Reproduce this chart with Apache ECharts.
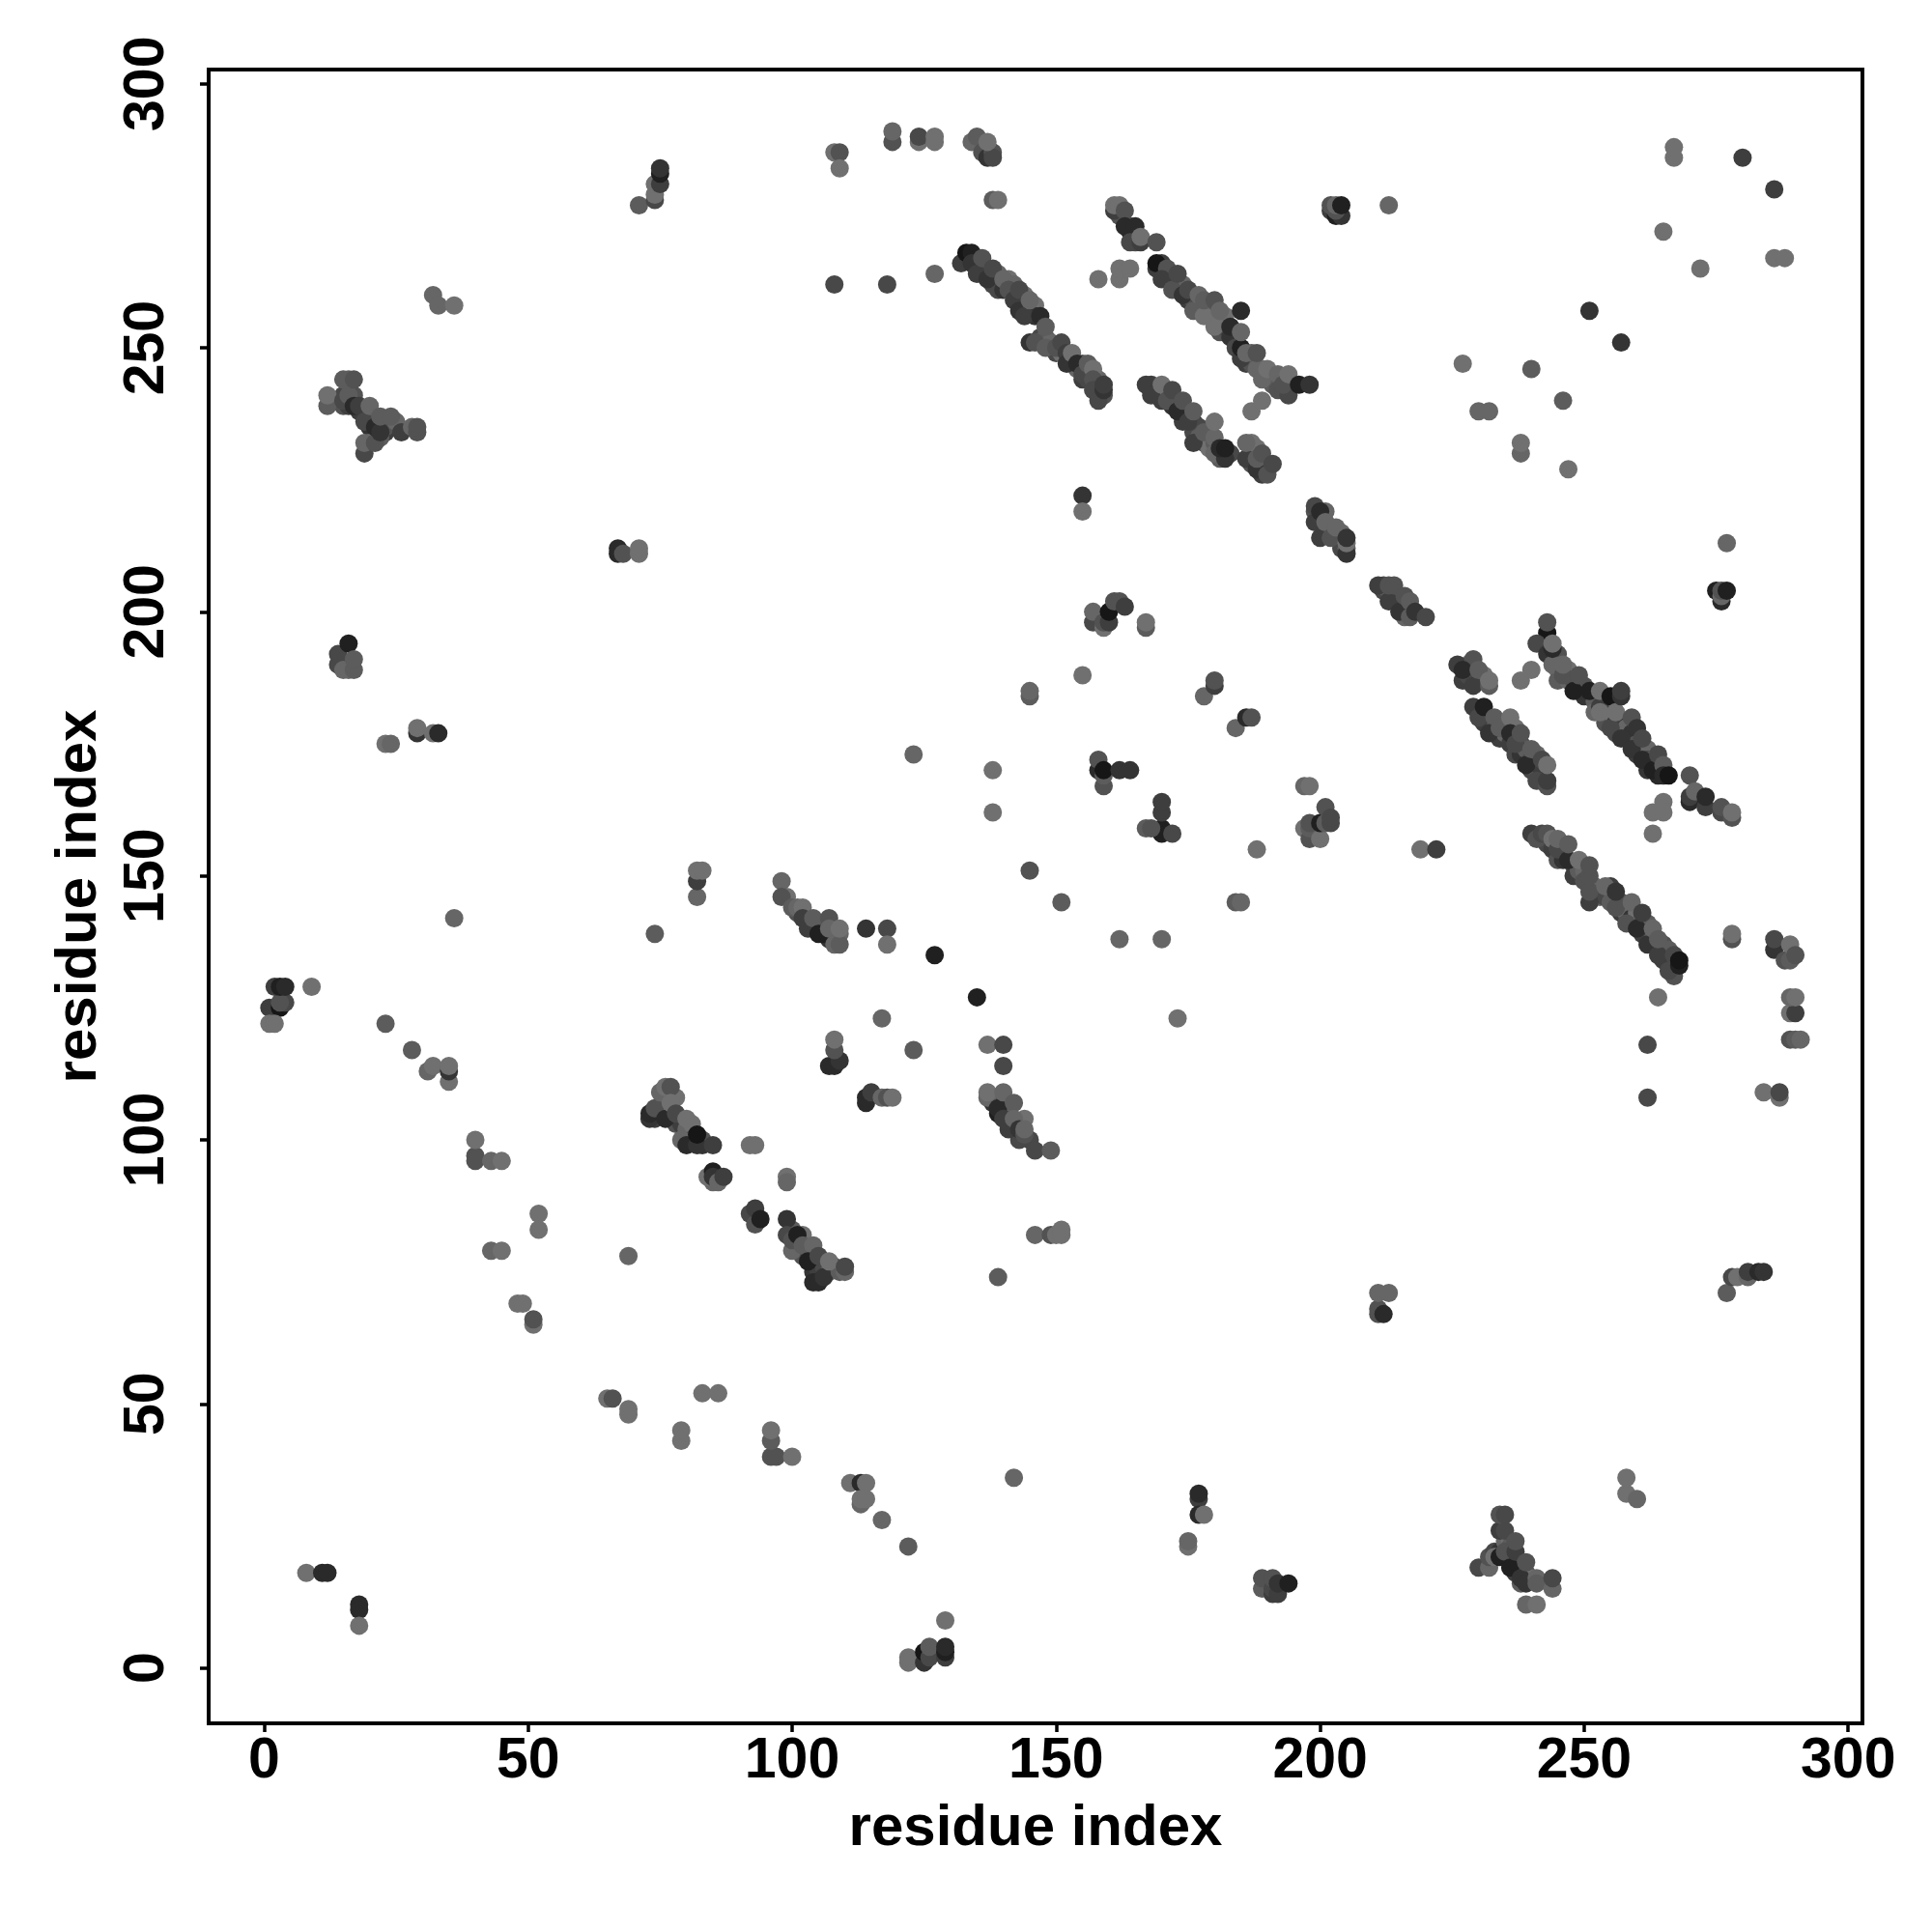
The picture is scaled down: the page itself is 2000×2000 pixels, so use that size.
<!DOCTYPE html>
<html><head><meta charset="utf-8">
<script src="https://cdn.jsdelivr.net/npm/echarts@6/dist/echarts.min.js"></script>
<style>html,body{margin:0;background:#fff}#c{width:2000px;height:2000px}</style></head>
<body><div id="c"></div>
<script>
// each entry: [residue x, residue y, contact strength 0..9]
const tickValues = [0,50,100,150,200,250,300];
const axisTitle = 'residue index';
const lowerLeft = [[8,18,0],[11,18,7],[12,18,7],[18,12,7],[18,11,7],[18,8,0],[1,125,5],[3,125,9],[4,126,4],[3,126,3],[1,122,0],[2,122,0],[2,129,5],[3,129,8],[4,129,7],[9,129,0],[23,122,2],[28,117,2],[31,113,1],[32,114,0],[35,111,0],[35,113,6],[35,114,0],[36,142,1]];
const offDiagA = [[40,97,3],[40,96,3],[40,100,0],[43,96,1],[45,96,0],[52,86,0],[52,83,0],[43,79,1],[45,79,0],[69,78,1],[48,69,0],[49,69,0],[51,65,0],[51,66,3],[65,51,0],[66,51,3],[69,48,0],[69,49,0],[83,52,0],[86,52,0],[79,43,0],[79,45,0],[96,40,3],[97,40,3],[96,43,2],[96,45,0],[100,40,0],[111,35,0],[113,35,7],[114,35,0],[113,31,1],[113,32,0],[114,32,0],[117,28,1],[122,23,2],[142,36,1],[139,74,2],[146,82,1],[149,82,3],[150,82,0],[151,82,0],[151,83,0]];
const stripeAExtra = [[74,105,6],[74,104,5],[75,106,6],[75,105,3],[76,106,1],[76,108,0],[77,104,2],[78,108,0],[78,103,3],[79,103,5],[80,102,1],[81,101,1],[81,103,0],[81,100,3],[83,99,6],[83,100,3],[85,92,1]];
const stripeA = [[73,104,6],[73,105,7],[74,106,3],[75,109,1],[76,110,0],[77,110,3],[76,104,7],[77,107,0],[78,105,4],[79,100,1],[80,104,0],[80,99,7],[82,99,6],[82,101,9],[85,99,5],[92,99,0],[93,99,0],[84,93,0],[85,94,8],[85,93,6],[86,92,1],[87,93,5],[92,86,4],[93,84,3],[93,87,5],[94,85,8]];
const stripeBExtra = [[100,83,2],[102,78,3],[102,82,0],[103,79,4],[104,78,2],[104,75,6],[105,76,1],[105,75,5],[106,77,0],[106,76,4],[107,75,2],[108,76,3]];
const stripeB = [[99,85,6],[99,93,0],[99,92,1],[99,82,4],[100,79,1],[100,81,3],[101,82,8],[102,80,2],[104,73,7],[105,73,7],[104,80,1],[103,77,8],[105,78,4],[106,74,6],[109,75,2],[110,75,1],[107,77,0],[110,76,4]];
const midLeftExtra = [[103,142,4],[104,140,3],[105,141,1],[106,141,3],[107,138,6],[108,139,0],[109,139,1],[99,146,0],[101,143,3],[102,143,2]];
const midLeft = [[98,149,1],[98,146,3],[100,144,2],[101,144,1],[102,144,0],[102,142,5],[103,140,5],[104,142,2],[106,139,8],[105,139,8],[107,142,3],[107,140,1],[108,137,1],[109,137,2],[109,140,0],[114,140,6],[118,140,4],[118,137,0],[107,114,7],[108,114,7],[109,115,6],[108,117,3],[108,119,0],[117,123,1],[123,117,2],[127,135,8],[135,127,8],[114,107,7],[114,108,7],[115,109,5],[117,108,1],[118,108,3],[119,108,0]];
const midRightAExtra = [[138,107,6],[139,108,1],[140,106,4],[140,107,6],[141,105,5],[141,106,1],[142,103,4],[143,103,1],[144,104,0],[145,100,4],[143,100,4]];
const midRightA = [[137,118,0],[140,118,4],[140,114,4],[137,108,1],[137,109,0],[139,105,8],[139,106,7],[140,104,5],[140,109,1],[142,107,2],[141,102,5],[142,104,1],[143,102,6],[144,101,3],[144,102,1],[146,98,4],[149,98,2]];
const bottomRow = [[129,9,0],[122,1,0],[122,2,0],[125,1,6],[125,3,9],[126,2,4],[126,4,2],[129,2,5],[129,3,8],[129,4,7],[175,23,0],[175,24,1],[177,32,5],[177,33,7],[177,29,7],[178,29,0],[189,15,2],[189,17,3],[191,14,5],[191,15,4],[191,17,3],[192,14,5],[192,16,6],[194,16,8],[230,19,4],[232,19,1],[232,21,3],[233,22,4]];
const bottomClusterExtra = [[234,22,6],[235,21,5],[236,21,2],[237,20,6],[237,18,5],[238,19,3],[239,18,3],[238,16,2],[240,17,0],[235,24,1],[236,24,0],[233,21,0],[236,23,2]];
const bottomCluster = [[234,26,5],[235,26,4],[234,29,3],[235,29,4],[234,21,8],[235,22,3],[236,19,8],[237,22,5],[237,24,3],[238,17,6],[239,16,6],[239,20,3],[241,17,1],[241,16,2],[244,15,1],[244,17,4],[239,12,1],[241,12,0],[258,33,0],[258,36,0],[260,32,1]];
const midLower = [[211,67,3],[211,68,3],[212,67,7],[211,71,1],[213,71,1],[277,71,2],[278,74,4],[279,74,0],[281,74,1],[281,75,5],[283,75,7],[284,75,6],[262,108,4],[262,118,4],[284,109,0],[287,108,0],[287,109,4],[264,127,0],[289,119,3],[290,119,2],[291,119,1],[289,124,0],[290,124,5],[289,127,1],[290,127,0],[278,138,3],[278,139,0],[286,136,6],[286,138,4],[288,134,3],[289,134,2],[289,137,0],[290,135,3]];
const stripeCExtra = [[243,156,4],[244,155,5],[245,153,3],[246,156,2],[246,153,6],[248,152,4],[248,150,5],[249,151,2],[250,151,1],[250,149,3],[252,148,1],[252,146,3],[253,146,1],[254,146,4],[255,148,5],[255,145,2],[257,143,5],[257,145,3],[258,143,1],[259,142,6],[260,143,0],[261,141,3],[261,139,5],[262,141,2],[263,137,6],[263,138,2],[265,134,5],[265,136,1],[265,137,3],[266,136,2],[267,134,5],[267,131,3]];
const stripeC = [[240,158,5],[241,157,3],[242,158,4],[243,158,3],[244,157,0],[245,155,4],[245,157,1],[247,153,7],[247,156,2],[249,153,0],[251,145,5],[251,147,3],[251,150,3],[251,152,3],[254,148,1],[256,144,3],[256,147,6],[258,141,3],[259,145,1],[260,140,7],[261,143,5],[262,137,6],[263,140,1],[264,135,5],[264,138,2],[266,132,4],[267,135,4],[268,133,8],[268,134,9]];
const midRightB = [[197,159,0],[198,157,3],[198,159,2],[198,160,3],[200,157,0],[200,160,8],[201,163,3],[201,160,2],[202,160,4],[202,161,4],[197,167,1],[198,167,0],[188,155,0],[184,145,2],[185,145,1],[145,151,3],[151,145,2],[162,138,1],[170,138,1],[173,123,0],[219,155,0],[222,155,5],[170,158,8],[170,159,8],[167,159,2],[168,159,3],[172,158,4],[170,162,5],[170,164,5],[158,170,7],[158,172,3],[159,167,3],[159,169,2],[159,170,9],[162,170,6],[164,170,6],[138,162,0],[138,170,0],[123,173,1],[145,184,2],[145,185,1],[155,188,0],[178,184,1],[180,186,5],[180,187,3],[184,178,1],[186,180,7],[187,180,3]];
const farLeft = [[14,190,4],[14,192,4],[16,194,8],[15,189,1],[16,189,1],[17,189,2],[17,191,2],[23,175,0],[24,175,1],[29,177,6],[29,178,0],[32,177,0],[33,177,7],[67,211,7],[67,212,7],[68,211,3],[71,211,0],[71,212,0],[74,139,2],[82,146,1],[82,149,5],[82,151,0],[83,151,0]];
const upperLeftExtra = [[17,241,3],[18,238,5],[20,236,5],[20,235,6],[21,236,2],[22,236,3],[23,234,5],[23,235,3],[25,236,1],[16,240,4],[15,239,3],[15,241,4],[16,239,5],[22,233,2],[20,232,0]];
const upperLeft = [[12,239,2],[12,241,0],[15,240,4],[16,241,2],[15,244,2],[16,244,2],[17,244,3],[17,239,7],[18,239,5],[19,236,4],[19,230,4],[19,232,1],[20,239,1],[21,232,3],[21,235,7],[22,234,6],[22,237,2],[24,237,2],[26,234,5],[28,235,1],[29,234,3],[29,235,3],[32,260,1],[33,258,1],[36,258,0],[71,277,2],[74,278,4],[74,279,0],[74,281,0],[75,281,5],[75,283,8],[75,284,6]];
const topRow = [[108,262,4],[118,262,4],[127,264,1],[108,287,0],[109,287,3],[109,284,0],[119,289,3],[119,291,1],[124,289,0],[124,290,4],[127,289,0],[127,290,0],[134,289,1],[135,290,2],[136,287,3],[137,286,6],[138,287,3],[138,286,4],[137,289,0],[138,278,2],[139,278,0]];
const stripeDExtra = [[135,267,5],[135,265,1],[136,264,6],[137,265,3],[138,262,4],[139,264,1],[139,261,4],[140,261,6],[141,263,0],[142,262,1],[142,260,5],[143,259,6],[144,260,0],[144,258,5],[145,257,4],[146,258,0],[146,256,6],[147,252,4],[148,252,2],[149,251,1],[150,249,4],[151,249,0],[153,247,5],[154,246,1],[155,247,2],[155,244,5],[156,244,4],[156,246,1],[158,244,1],[158,242,5],[159,241,3]];
const stripeD = [[132,266,5],[133,268,9],[134,268,8],[134,266,6],[135,264,5],[136,267,3],[137,263,6],[138,265,4],[140,263,1],[141,261,3],[142,259,5],[143,261,4],[143,257,6],[144,256,5],[145,259,1],[147,256,7],[148,254,2],[145,251,6],[146,251,3],[148,250,2],[150,250,3],[151,251,4],[152,249,5],[152,247,6],[153,249,0],[154,247,7],[155,245,4],[156,247,2],[157,246,0],[157,244,3],[157,242,4],[158,240,4],[159,242,6],[159,243,5]];
const stripeEExtra = [[162,275,3],[162,276,3],[164,272,8],[164,273,3],[165,271,8],[165,270,4]];
const stripeE = [[155,222,6],[155,219,0],[157,198,4],[157,200,1],[159,197,0],[159,198,3],[160,198,5],[160,200,9],[161,202,3],[162,202,3],[163,201,5],[167,197,2],[167,198,0],[158,263,0],[162,263,0],[162,265,0],[164,265,0],[161,276,5],[161,277,0],[162,277,0],[163,276,3],[163,273,7],[165,273,7],[164,270,4],[166,270,5],[166,271,0],[169,270,3]];
const stripeFExtra = [[170,265,6],[170,266,5],[171,263,4],[172,263,5],[173,261,5],[174,262,1],[175,259,5],[176,259,3],[177,258,4],[178,257,5],[179,258,1],[179,256,4],[180,257,2],[181,253,3],[182,254,4],[182,256,0],[183,252,6],[184,252,6],[184,250,4],[186,247,5],[186,248,3],[187,247,3],[187,249,2],[189,246,0],[190,244,0],[191,243,2],[192,242,3],[193,242,3],[194,243,1],[195,243,6]];
const stripeF = [[169,265,5],[169,266,9],[171,265,3],[170,263,5],[172,261,3],[173,264,4],[174,260,6],[175,261,4],[176,257,2],[177,260,1],[178,256,0],[178,259,2],[180,254,0],[180,259,3],[181,255,0],[181,257,1],[183,254,7],[185,248,5],[185,250,8],[185,253,1],[185,257,7],[186,249,1],[187,232,0],[188,246,1],[188,249,3],[189,244,1],[190,246,0],[192,245,1],[194,241,4],[193,243,3],[194,245,0],[196,243,8],[198,243,6],[187,238,0],[189,240,0]];
const stripeGExtra = [[168,243,5],[169,242,3],[170,240,5],[171,241,0],[172,239,6],[173,240,2],[174,238,4],[174,236,5],[175,238,0],[176,236,6],[176,234,4],[177,235,4],[177,233,2],[178,232,3],[179,233,1],[179,231,0],[180,232,2],[181,229,2],[183,230,4],[187,228,3],[187,230,5],[187,231,0],[188,231,0],[189,228,4],[190,228,0],[189,226,5]];
const stripeG = [[167,243,5],[168,241,5],[170,243,0],[171,240,3],[172,242,4],[173,238,7],[174,240,3],[175,236,5],[176,232,5],[176,238,2],[178,234,2],[180,230,1],[180,233,1],[180,236,0],[182,229,6],[181,231,7],[182,231,8],[186,229,5],[186,232,1],[188,227,6],[188,229,2],[189,230,3],[190,226,3],[191,228,4]];
const diagonalExtra = [[199,219,3],[200,217,3],[201,215,5],[201,219,1],[202,216,1],[203,214,2],[204,215,1],[204,213,3],[204,212,4],[205,212,2],[212,204,4],[212,205,4],[213,204,2],[214,202,4],[214,203,1],[215,202,2],[216,201,5],[216,199,1]];
const diagonal = [[199,217,5],[199,220,4],[200,214,5],[200,219,7],[201,217,1],[202,214,3],[203,216,1],[205,211,6],[205,213,0],[205,214,6],[202,276,5],[202,277,3],[203,275,8],[204,275,6],[203,276,3],[203,277,1],[204,277,8],[213,277,1],[211,205,5],[213,202,5],[213,205,3],[214,205,3],[215,200,6],[216,203,3],[217,199,2],[217,202,2],[218,200,6],[220,199,4]];
const upperRight = [[267,286,0],[267,288,0],[280,286,5],[286,280,5],[265,272,0],[272,265,0],[286,267,0],[288,267,0],[251,257,6],[257,251,6],[227,247,0],[240,246,2],[246,240,2],[230,238,1],[232,238,1],[238,230,1],[238,232,0],[247,227,0],[277,213,1],[275,204,8],[276,202,7],[276,203,1],[276,204,3],[277,204,8]];
const stripeHExtra = [[227,187,5],[228,188,4],[228,190,0],[231,187,5],[231,188,0],[232,180,5],[232,179,4],[231,179,5],[233,178,3],[234,176,5],[235,179,0],[235,177,1],[236,175,5],[237,178,0],[237,173,4],[238,175,4],[238,173,6],[239,174,2],[240,170,4],[240,172,4],[241,170,3],[241,173,1],[242,168,5],[242,170,5]];
const stripeH = [[226,190,5],[229,191,3],[227,189,7],[229,186,5],[230,189,2],[232,186,2],[232,187,0],[238,187,0],[240,189,0],[229,182,5],[230,180,4],[231,182,8],[233,180,2],[232,177,6],[234,178,2],[236,180,0],[236,177,7],[237,175,4],[238,177,3],[239,171,7],[240,174,2],[241,168,4],[242,172,4],[243,167,3],[243,168,5],[243,171,0]];
const stripeIExtra = [[243,194,4],[245,192,3],[245,189,0],[245,187,2],[247,187,1],[247,189,0],[248,187,3],[249,185,4],[250,184,6],[250,186,3],[252,183,2],[252,181,1],[254,182,0],[254,180,0],[254,179,3],[255,181,0],[256,177,4],[256,179,6],[257,178,5],[258,176,3],[258,178,1],[259,177,6],[260,175,3],[260,173,5],[262,174,1],[262,172,4],[262,170,6],[263,172,2],[264,171,4],[264,169,7]];
const stripeI = [[243,196,9],[243,198,3],[241,194,4],[243,192,6],[244,190,1],[244,193,7],[244,194,0],[246,188,3],[246,190,1],[248,185,8],[249,188,3],[251,185,8],[253,182,5],[253,181,0],[253,185,0],[255,184,9],[255,178,4],[256,181,0],[257,176,6],[257,184,6],[257,185,5],[259,174,6],[259,180,3],[260,178,6],[261,172,7],[261,176,4],[263,170,8],[264,173,4],[265,171,2],[265,169,7],[266,169,9],[265,164,0],[263,162,0],[265,162,0],[263,158,0],[270,164,7],[270,165,5],[270,169,3],[271,166,1],[273,163,5],[273,165,7],[276,162,4],[276,163,3],[278,161,3],[278,162,0]];

const points = [].concat(lowerLeft, offDiagA, stripeAExtra, stripeA, stripeBExtra, stripeB, midLeftExtra, midLeft, midRightAExtra, midRightA, bottomRow, bottomClusterExtra, bottomCluster, midLower, stripeCExtra, stripeC, midRightB, farLeft, upperLeftExtra, upperLeft, topRow, stripeDExtra, stripeD, stripeEExtra, stripeE, stripeFExtra, stripeF, stripeGExtra, stripeG, diagonalExtra, diagonal, upperRight, stripeHExtra, stripeH, stripeIExtra, stripeI);

const font = '"Liberation Sans", Arial, sans-serif';
function shade(s){ const g = 112 - 10*s; return 'rgb('+g+','+g+','+g+')'; }
function axis(isY){
  return {
    type:'value', min:-10.5, max:302.7, splitLine:{show:false},
    axisLine:{show:false, onZero:false},
    axisTick:{show:true, length:9, lineStyle:{color:'#000',width:3.5}, customValues:tickValues},
    axisLabel:{show:true, customValues:tickValues, color:'#000', fontFamily:font, fontWeight:'bold', fontSize:59, margin:isY?34:10, rotate:isY?90:0},
    name:axisTitle, nameLocation:'middle', nameGap:isY?104:79, nameRotate:isY?90:0,
    nameTextStyle:{color:'#000', fontFamily:font, fontWeight:'bold', fontSize:60}
  };
}
const chart = echarts.init(document.getElementById('c'), null, {renderer:'canvas'});
chart.setOption({
  animation:false, backgroundColor:'#fff',
  grid:{show:true, left:216, top:72, width:1712, height:1712, borderColor:'#000', borderWidth:4, backgroundColor:'transparent'},
  xAxis:axis(false), yAxis:axis(true),
  series:[{type:'scatter', symbol:'circle', symbolSize:19, large:false, clip:false, itemStyle:{opacity:1},
    data:points.map(p=>({value:[p[0],p[1]], itemStyle:{color:shade(p[2]), opacity:1}}))}]
});
</script></body></html>
